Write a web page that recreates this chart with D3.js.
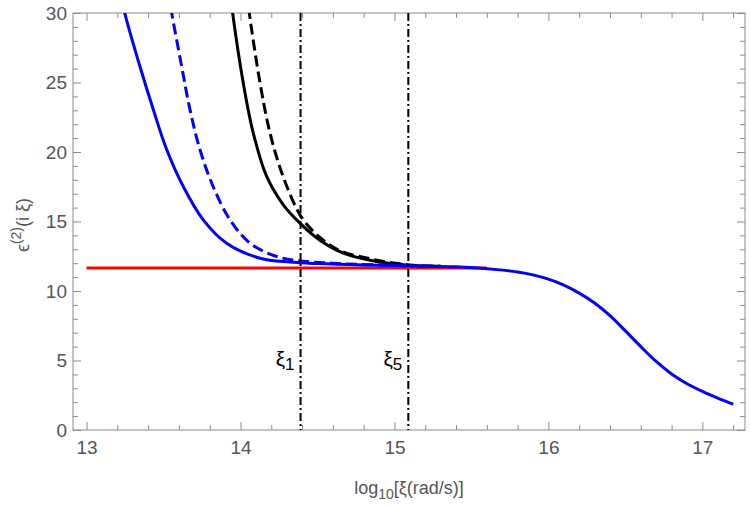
<!DOCTYPE html>
<html>
<head>
<meta charset="utf-8">
<script src="https://cdn.jsdelivr.net/npm/d3@7"></script>
<style>
  html, body { margin: 0; padding: 0; background: #fff; }
  svg { display: block; font-family: "Liberation Sans", Arial, sans-serif; }
</style>
</head>
<body>
<svg id="chart" width="750" height="507"></svg>
<script>
// ---- data ----
const xMajorTicks = [13, 14, 15, 16, 17];
const yMajorTicks = [0, 5, 10, 15, 20, 25, 30];

const blueSolidX = [13.20, 13.248, 13.347, 13.434, 13.521, 13.629, 13.758, 13.910, 14.127, 14.321, 14.5, 14.8, 15.09, 15.4, 15.685, 15.8, 15.9, 16.0, 16.1, 16.2, 16.3, 16.4, 16.5, 16.6, 16.7, 16.8, 16.9, 17.0, 17.1, 17.2];
const blueSolidY = [32.5, 30.0, 26.15, 23.04, 20.16, 17.5, 15.12, 13.44, 12.36, 12.08, 11.97, 11.87, 11.82, 11.74, 11.52, 11.37, 11.16, 10.85, 10.42, 9.85, 9.14, 8.23, 7.13, 6.00, 4.93, 4.03, 3.33, 2.78, 2.30, 1.86];

const blueDashX = [13.53, 13.553, 13.618, 13.672, 13.737, 13.823, 13.932, 14.062, 14.235, 14.4, 14.6, 14.8, 15.09];
const blueDashY = [31.5, 30.0, 26.15, 23.04, 20.16, 17.5, 15.12, 13.44, 12.48, 12.15, 12.0, 11.9, 11.82];

const blackSolidX = [13.93, 13.949, 14.018, 14.083, 14.170, 14.278, 14.391, 14.516, 14.668, 14.884, 15.09, 15.3];
const blackSolidY = [31.8, 30.0, 24.96, 21.36, 18.24, 16.2, 14.83, 13.65, 12.72, 12.12, 11.86, 11.78];

const blackDashX = [14.04, 14.057, 14.127, 14.192, 14.278, 14.397, 14.516, 14.646, 14.85, 15.09, 15.3];
const blackDashY = [31.5, 30.0, 24.96, 21.36, 18.2, 15.3, 13.85, 12.9, 12.3, 11.88, 11.78];

const redX = [13.0, 15.6];
const redY = [11.66, 11.66];

const markerX = [14.39, 15.09];
const markerLabels = ["1", "5"];

// ---- layout ----
const svg = d3.select("#chart");
const mLeft = 73, mRight = 745, mTop = 13, mBottom = 430;
const x = d3.scaleLinear().domain([12.912, 17.277]).range([mLeft, mRight]);
const y = d3.scaleLinear().domain([0, 30]).range([mBottom, mTop]);

const frameColor = "#8c8c8c";
const labelColor = "#555";

svg.append("defs").append("clipPath").attr("id", "clip")
  .append("rect").attr("x", mLeft).attr("y", mTop).attr("width", mRight - mLeft).attr("height", mBottom - mTop);

const xMinor = d3.range(13, 17.21, 0.2).filter(v => Math.abs(v - Math.round(v)) > 1e-6);
const yMinor = d3.range(0, 30.01, 1).filter(v => v % 5 !== 0);

function styleAxis(g) {
  g.select(".domain").remove();
  g.selectAll(".tick line").attr("stroke", frameColor);
  g.selectAll(".tick text").attr("fill", labelColor).style("font-size", "19px");
}

// bottom
svg.append("g").attr("transform", `translate(0,${mBottom})`)
  .call(d3.axisBottom(x).tickValues(xMajorTicks).tickSizeInner(-8).tickSizeOuter(0).tickPadding(11).tickFormat(d3.format("d")))
  .call(styleAxis);
svg.append("g").attr("transform", `translate(0,${mBottom})`)
  .call(d3.axisBottom(x).tickValues(xMinor).tickSizeInner(-5).tickSizeOuter(0).tickFormat(""))
  .call(styleAxis);
// top
svg.append("g").attr("transform", `translate(0,${mTop})`)
  .call(d3.axisTop(x).tickValues(xMajorTicks).tickSizeInner(-8).tickSizeOuter(0).tickFormat(""))
  .call(styleAxis);
svg.append("g").attr("transform", `translate(0,${mTop})`)
  .call(d3.axisTop(x).tickValues(xMinor).tickSizeInner(-5).tickSizeOuter(0).tickFormat(""))
  .call(styleAxis);
// left
svg.append("g").attr("transform", `translate(${mLeft},0)`)
  .call(d3.axisLeft(y).tickValues(yMajorTicks).tickSizeInner(-8).tickSizeOuter(0).tickPadding(6).tickFormat(d3.format("d")))
  .call(styleAxis);
svg.append("g").attr("transform", `translate(${mLeft},0)`)
  .call(d3.axisLeft(y).tickValues(yMinor).tickSizeInner(-5).tickSizeOuter(0).tickFormat(""))
  .call(styleAxis);
// right
svg.append("g").attr("transform", `translate(${mRight},0)`)
  .call(d3.axisRight(y).tickValues(yMajorTicks).tickSizeInner(-8).tickSizeOuter(0).tickFormat(""))
  .call(styleAxis);
svg.append("g").attr("transform", `translate(${mRight},0)`)
  .call(d3.axisRight(y).tickValues(yMinor).tickSizeInner(-5).tickSizeOuter(0).tickFormat(""))
  .call(styleAxis);

// frame
svg.append("rect").attr("x", mLeft).attr("y", mTop).attr("width", mRight - mLeft).attr("height", mBottom - mTop)
  .attr("fill", "none").attr("stroke", frameColor).attr("stroke-width", 1);

// curves
const plot = svg.append("g").attr("clip-path", "url(#clip)");
const line = d3.line().x(d => x(d[0])).y(d => y(d[1])).curve(d3.curveCatmullRom.alpha(0.5));
const zip = (a, b) => a.map((v, i) => [v, b[i]]);

plot.append("path").datum(zip(redX, redY)).attr("d", line)
  .attr("fill", "none").attr("stroke", "#ff0000").attr("stroke-width", 3);

plot.append("path").datum(zip(blackDashX, blackDashY)).attr("d", line)
  .attr("fill", "none").attr("stroke", "#000").attr("stroke-width", 3).attr("stroke-dasharray", "11,5");
plot.append("path").datum(zip(blackSolidX, blackSolidY)).attr("d", line)
  .attr("fill", "none").attr("stroke", "#000").attr("stroke-width", 3);

plot.append("path").datum(zip(blueDashX, blueDashY)).attr("d", line)
  .attr("fill", "none").attr("stroke", "#0000ff").attr("stroke-width", 3).attr("stroke-dasharray", "11,5");
plot.append("path").datum(zip(blueSolidX, blueSolidY)).attr("d", line)
  .attr("fill", "none").attr("stroke", "#0000ff").attr("stroke-width", 3);

// vertical dash-dot markers
markerX.forEach((mx, i) => {
  plot.append("line").attr("x1", x(mx)).attr("x2", x(mx)).attr("y1", y(30)).attr("y2", y(0))
    .attr("stroke", "#000").attr("stroke-width", 2).attr("stroke-dasharray", "8,3,2,3");
  const t = svg.append("text").attr("x", x(mx) - 6).attr("y", y(0) - 64)
    .attr("text-anchor", "end").attr("fill", "#000").style("font-size", "21px");
  t.append("tspan").text("ξ");
  t.append("tspan").attr("dy", 4).style("font-size", "17px").text(markerLabels[i]);
});

// axis titles
const xt = svg.append("text").attr("x", 409).attr("y", 494).attr("text-anchor", "middle")
  .attr("fill", labelColor).style("font-size", "18px");
xt.append("tspan").text("log");
xt.append("tspan").attr("dy", 5).style("font-size", "14px").text("10");
xt.append("tspan").attr("dy", -5).text("[ξ(rad/s)]");

const yt = svg.append("text").attr("transform", "translate(29,225) rotate(-90)").attr("text-anchor", "middle")
  .attr("fill", labelColor).style("font-size", "18px");
yt.append("tspan").text("ϵ");
yt.append("tspan").attr("dy", -8).style("font-size", "14px").text("(2)");
yt.append("tspan").attr("dy", 8).text("(i ξ)");
</script>
</body>
</html>
